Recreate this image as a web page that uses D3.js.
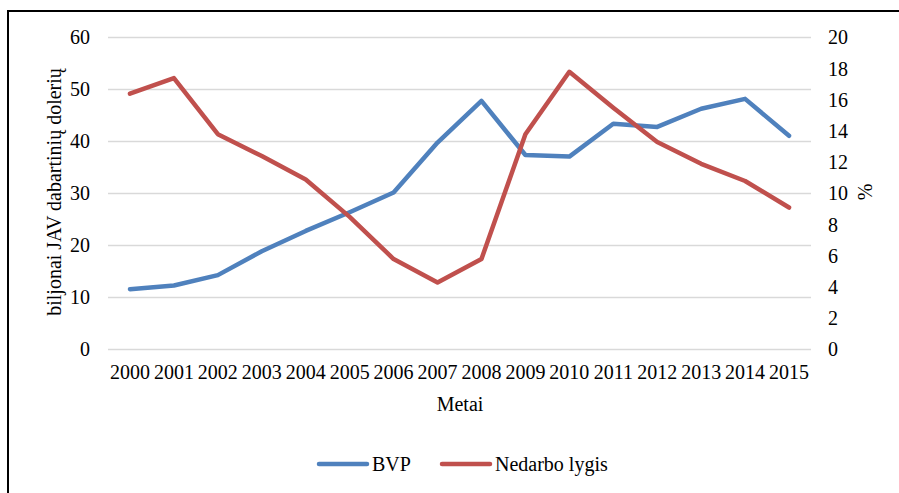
<!DOCTYPE html>
<html><head><meta charset="utf-8">
<script src="https://cdn.jsdelivr.net/npm/d3@7"></script>
<style>body{margin:0;background:#fff}svg{display:block}text{font-family:"Liberation Serif","Times New Roman",serif;fill:#000}</style>
</head><body><svg id="c" width="899" height="493"></svg>
<script>
const years = ["2000","2001","2002","2003","2004","2005","2006","2007","2008","2009","2010","2011","2012","2013","2014","2015"];
const bvp = [11.6,12.3,14.3,18.9,22.8,26.4,30.2,39.8,47.8,37.4,37.1,43.4,42.8,46.3,48.2,41.1];
const nedarbo = [16.4,17.4,13.8,12.4,10.9,8.5,5.8,4.3,5.8,13.8,17.8,15.5,13.3,11.9,10.8,9.1];
const leftTicks = [0,10,20,30,40,50,60];
const rightTicks = [0,2,4,6,8,10,12,14,16,18,20];
const seriesNames = ["BVP","Nedarbo lygis"];
const colors = ["#4F81BD","#C0504D"];

const FONT = "'Liberation Serif', 'Times New Roman', serif";
const svg = d3.select("#c");
svg.append("rect").attr("x",8).attr("y",11).attr("width",1200).attr("height",1000)
  .attr("fill","none").attr("stroke","#000").attr("stroke-width",2);

const x0 = 108, x1 = 811, yTop = 37.5, yBot = 349.5;
const x = d3.scaleBand().domain(years).range([x0,x1]);
const yL = d3.scaleLinear().domain([0,60]).range([yBot,yTop]);
const yR = d3.scaleLinear().domain([0,20]).range([yBot,yTop]);

// gridlines
svg.append("g").selectAll("line").data(leftTicks).join("line")
  .attr("x1",x0).attr("x2",x1).attr("y1",d=>yL(d)).attr("y2",d=>yL(d))
  .attr("stroke","#D9D9D9").attr("stroke-width",1.3);

const fs = 20;
function styleAxis(g){
  g.attr("font-family",FONT).attr("font-size",fs);
  g.select(".domain").remove();
  g.selectAll("text").style("font-family",FONT).style("font-size",fs+"px").attr("fill","#000");
}
// left axis
const gl = svg.append("g").attr("transform",`translate(${x0},0)`)
  .call(d3.axisLeft(yL).tickValues(leftTicks).tickSize(0).tickPadding(18));
styleAxis(gl);
// right axis
const gr = svg.append("g").attr("transform",`translate(${x1},0)`)
  .call(d3.axisRight(yR).tickValues(rightTicks).tickSize(0).tickPadding(17));
styleAxis(gr);
// x axis
const gx = svg.append("g").attr("transform",`translate(0,${yBot})`)
  .call(d3.axisBottom(x).tickSize(0).tickPadding(15));
styleAxis(gx);

// titles
svg.append("text").attr("transform","translate(61,192) rotate(-90)").attr("text-anchor","middle")
  .style("font-size",fs+"px").text("biljonai JAV dabartinių dolerių");
svg.append("text").attr("transform","translate(872,192) rotate(-90)").attr("text-anchor","middle")
  .style("font-size",fs+"px").text("%");
svg.append("text").attr("x",460).attr("y",411).attr("text-anchor","middle")
  .style("font-size",fs+"px").text("Metai");

// lines
const cx = d => x(d) + x.bandwidth()/2;
const lineL = d3.line().x((d,i)=>cx(years[i])).y(d=>yL(d));
const lineR = d3.line().x((d,i)=>cx(years[i])).y(d=>yR(d));
svg.append("path").datum(bvp).attr("d",lineL).attr("fill","none").attr("stroke",colors[0])
  .attr("stroke-width",4.5).attr("stroke-linecap","round").attr("stroke-linejoin","round");
svg.append("path").datum(nedarbo).attr("d",lineR).attr("fill","none").attr("stroke",colors[1])
  .attr("stroke-width",4.5).attr("stroke-linecap","round").attr("stroke-linejoin","round");

// legend
const legX = [319,442];
seriesNames.forEach((n,i)=>{
  svg.append("line").attr("x1",legX[i]).attr("x2",legX[i]+48).attr("y1",464).attr("y2",464)
    .attr("stroke",colors[i]).attr("stroke-width",4.5).attr("stroke-linecap","round");
  svg.append("text").attr("x",legX[i]+53).attr("y",464).attr("dy","0.35em")
    .style("font-size",fs+"px").text(n);
});
</script></body></html>
